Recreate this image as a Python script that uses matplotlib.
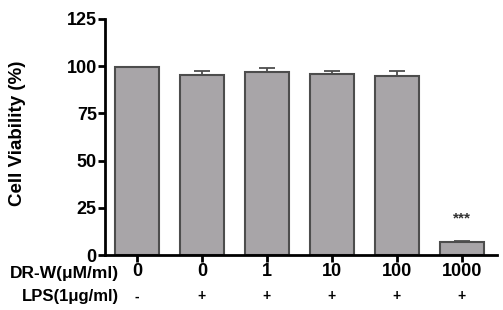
import matplotlib
matplotlib.use("Agg")
import matplotlib.pyplot as plt
import matplotlib.transforms as mtransforms

# Data
doses = ["0", "0", "1", "10", "100", "1000"]
lps = ["-", "+", "+", "+", "+", "+"]
viability = [99.6, 95.2, 96.8, 95.8, 94.7, 7.0]
sem = [0.0, 2.3, 2.1, 1.9, 2.6, 0.4]
stars = ["", "", "", "", "", "***"]

plt.rcParams["font.family"] = ["Liberation Sans", "DejaVu Sans"]
plt.rcParams["font.weight"] = "bold"

fig = plt.figure(figsize=(5.03, 3.10), dpi=100)
ax = fig.add_axes([0.209, 0.177, 0.779, 0.762])

x = list(range(len(doses)))
ax.bar(x, viability, width=0.68, color="#a8a5a8", edgecolor="#4d4d4d", linewidth=1.5, zorder=2)
ax.errorbar(x, viability, yerr=[[0] * len(sem), sem], fmt="none", ecolor="#4d4d4d",
            elinewidth=1.3, capsize=6, capthick=1.3, zorder=3)

for xi, v, e, s in zip(x, viability, sem, stars):
    if s:
        ax.text(xi, v + e + 12, s, ha="center", va="center", fontsize=11, color="#333333")

ax.set_xlim(-0.49, 5.54)
ax.set_ylim(0, 125)
ax.set_yticks([0, 25, 50, 75, 100, 125])
ax.set_xticks(x)
ax.set_xticklabels(doses)
ax.tick_params(axis="both", direction="out", length=5, width=2, labelsize=13, pad=1)
for lab in ax.get_xticklabels() + ax.get_yticklabels():
    lab.set_fontweight("bold")

for side in ["top", "right"]:
    ax.spines[side].set_visible(False)
for side in ["left", "bottom"]:
    ax.spines[side].set_linewidth(2)

fig.text(0.034, 0.571, "Cell Viability (%)", rotation=90, ha="center", va="center",
         fontsize=13.5, fontweight="bold")

# second row of group labels
trans = mtransforms.blended_transform_factory(ax.transData, ax.transAxes)
for xi, s in zip(x, lps):
    ax.text(xi, -0.174, s, transform=trans, ha="center", va="center", fontsize=10, fontweight="bold")

fig.text(0.236, 0.119, "DR-W(\u03bcM/ml)", ha="right", va="center", fontsize=12.5, fontweight="bold")
fig.text(0.236, 0.045, "LPS(1\u03bcg/ml)", ha="right", va="center", fontsize=12, fontweight="bold")

fig.savefig("out.png", dpi=100)
